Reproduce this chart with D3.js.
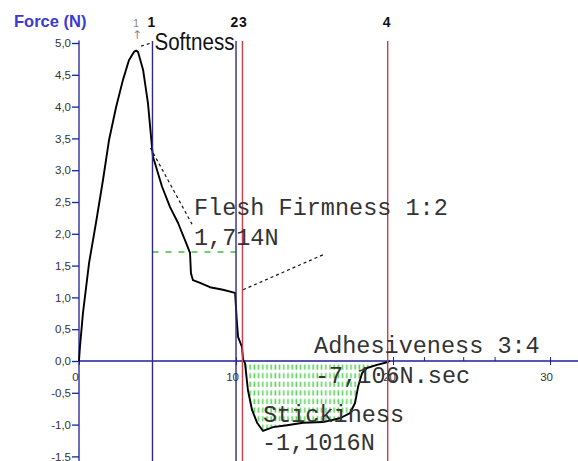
<!DOCTYPE html>
<html>
<head>
<meta charset="utf-8">
<script src="https://cdn.jsdelivr.net/npm/d3@7"></script>
<style>
  body { margin: 0; background: #fff; }
  svg { display: block; }
</style>
</head>
<body>
<div id="chart"></div>
<script>
// Texture analyser curve: force (N) against time (s)

// Curve
const time = [0, 0.06, 0.25, 0.64, 1.08, 1.53, 1.91, 2.36, 2.80, 3.18, 3.50, 3.63, 3.76, 4.08, 4.39, 4.59, 4.71,
  4.84, 5.29, 5.80, 6.31, 6.75, 7.07, 7.13, 7.26, 7.71, 8.34, 9.17, 9.94,
  10.06, 10.13, 10.38, 10.45, 10.57, 10.76, 11.02, 11.34, 11.72, 12.36, 13.25, 14.27, 15.54,
  16.62, 17.26, 17.58, 17.77, 18.03, 18.34, 18.98, 19.62, 19.8]
const force = [0, 0.22, 0.75, 1.54, 2.17, 2.85, 3.47, 3.99, 4.42, 4.73, 4.86, 4.88, 4.86, 4.58, 4.06, 3.52, 3.21,
  3.11, 2.74, 2.42, 2.17, 1.90, 1.70, 1.38, 1.27, 1.23, 1.16, 1.12, 1.07,
  0.60, 0.38, 0.22, 0.02, -0.03, -0.46, -0.77, -0.97, -1.10, -1.04, -1.01, -0.97, -0.96,
  -0.90, -0.82, -0.66, -0.41, -0.19, -0.11, -0.06, -0.02, 0]

// Event markers
const eventTimes = [4.68, 10.0, 10.41, 19.66]
const eventLabels = ['1', '2', '3', '4']
const peakTime = 3.63
const peakForce = 4.88

// Results
const firmness = 1.714
const adhesiveness = -7.106
const stickiness = -1.1016

// Axis ticks
const yTicks = [-1.5, -1.0, -0.5, 0, 0.5, 1.0, 1.5, 2.0, 2.5, 3.0, 3.5, 4.0, 4.5, 5.0]
const xTicks = [0, 10, 20, 30]
const xMinorTicks = [22, 24.5, 26.5]

const width = 578
const height = 461

const comma = d3.formatLocale({ decimal: ',', thousands: '.', grouping: [3], currency: ['', ''], minus: '-' })
const fmt1 = comma.format('.1f')

const svg = d3.select('#chart')
  .append('svg')
  .attr('width', width)
  .attr('height', height)
  .style('background', '#fff')

const x = d3.scaleLinear().domain([0, 31.78]).range([79, 578])
const y = d3.scaleLinear().domain([0, 5]).range([361, 43])

const axisBlue = '#1e1e9c'
const lineBlue = '#2b2b86'
const lineRed = '#cc3d4c'

const points = time.map((t, i) => ({ t: t, f: force[i] }))

// Hatch pattern for the adhesiveness area
const defs = svg.append('defs')
const pat = defs.append('pattern')
  .attr('id', 'hatch')
  .attr('patternUnits', 'userSpaceOnUse')
  .attr('width', 4.2)
  .attr('height', 8.6)
  .attr('x', 244)
  .attr('y', 363)
pat.append('rect')
  .attr('x', 1.2).attr('y', 1.5)
  .attr('width', 1.6).attr('height', 5.2)
  .attr('fill', '#5cd65c')

const areaPts = points.filter(d => d.t >= eventTimes[2] && d.t <= eventTimes[3])
svg.append('path')
  .datum(areaPts)
  .attr('fill', 'url(#hatch)')
  .attr('d', d3.area()
    .x(d => x(d.t))
    .y0(y(0))
    .y1(d => y(Math.min(d.f, 0))))

// Green firmness level between 1 and 2
svg.append('line')
  .attr('x1', x(eventTimes[0])).attr('x2', x(eventTimes[1]))
  .attr('y1', y(firmness)).attr('y2', y(firmness))
  .attr('stroke', '#3fbf3f')
  .attr('stroke-width', 1.3)
  .attr('stroke-dasharray', '6,7')

// Dotted construction lines
const dotted = [
  [[4.55, 3.35], [7.2, 2.15]],
  [[10.45, 1.12], [15.54, 1.67]],
  [[3.95, 4.95], [4.6, 5.0]]
]
svg.selectAll('.dotted')
  .data(dotted)
  .enter().append('line')
  .attr('class', 'dotted')
  .attr('x1', d => x(d[0][0])).attr('y1', d => y(d[0][1]))
  .attr('x2', d => x(d[1][0])).attr('y2', d => y(d[1][1]))
  .attr('stroke', '#111')
  .attr('stroke-width', 1.2)
  .attr('stroke-dasharray', '3,3')

// X axis
const xAxis = svg.append('g')
  .attr('transform', `translate(0,${y(0)})`)
  .call(d3.axisBottom(x).tickValues(xTicks).tickFormat(d3.format('d')))
xAxis.select('.domain').remove()
xAxis.selectAll('line').attr('y1', -4).attr('y2', 4).attr('stroke', axisBlue)
xAxis.selectAll('text')
  .attr('y', 20).attr('dy', 0).attr('dx', -4)
  .attr('fill', '#333')
  .style('font', '11.5px "Liberation Sans", Arial, sans-serif')
svg.append('line')
  .attr('x1', x(0)).attr('x2', width)
  .attr('y1', y(0)).attr('y2', y(0))
  .attr('stroke', axisBlue).attr('stroke-width', 1.3)
svg.selectAll('.minor')
  .data(xMinorTicks)
  .enter().append('line')
  .attr('x1', d => x(d)).attr('x2', d => x(d))
  .attr('y1', y(0) - 4).attr('y2', y(0))
  .attr('stroke', axisBlue)

// Y axis
const yAxis = svg.append('g')
  .attr('transform', `translate(${x(0)},0)`)
  .call(d3.axisLeft(y).tickValues(yTicks).tickSize(7).tickFormat(fmt1))
yAxis.select('.domain').remove()
yAxis.selectAll('line').attr('stroke', axisBlue).attr('stroke-width', 1.3)
yAxis.selectAll('text')
  .attr('x', -8)
  .attr('fill', '#333')
  .style('font', '11.5px "Liberation Sans", Arial, sans-serif')
svg.append('line')
  .attr('x1', x(0)).attr('x2', x(0))
  .attr('y1', y(5.04)).attr('y2', height)
  .attr('stroke', axisBlue).attr('stroke-width', 1.3)

svg.append('text')
  .attr('x', 14).attr('y', 27)
  .attr('fill', '#3b3bd0')
  .style('font', 'bold 16.5px "Liberation Sans", Arial, sans-serif')
  .text('Force (N)')

// Curve
svg.append('path')
  .datum(points)
  .attr('fill', 'none')
  .attr('stroke', '#000')
  .attr('stroke-width', 1.9)
  .attr('stroke-linejoin', 'round')
  .attr('d', d3.line().x(d => x(d.t)).y(d => y(d.f)))

// Event lines and their numbers
svg.selectAll('.event')
  .data(eventTimes)
  .enter().append('line')
  .attr('class', 'event')
  .attr('x1', d => x(d)).attr('x2', d => x(d))
  .attr('y1', y(5.03)).attr('y2', height)
  .attr('stroke', (d, i) => i < 2 ? lineBlue : lineRed)
  .attr('stroke-width', 1.4)

svg.selectAll('.event-label')
  .data(eventTimes)
  .enter().append('text')
  .attr('x', (d, i) => x(d) + (i === 1 ? -1.5 : i === 2 ? 0.5 : -1))
  .attr('y', 27)
  .attr('text-anchor', 'middle')
  .attr('fill', '#111')
  .style('font', 'bold 14px "Liberation Sans", Arial, sans-serif')
  .text((d, i) => eventLabels[i])

// Peak marker
svg.append('text')
  .attr('x', x(peakTime)).attr('y', 27)
  .attr('text-anchor', 'middle')
  .attr('fill', '#8a8a8a')
  .style('font', '11px "Liberation Sans", Arial, sans-serif')
  .text('1')
svg.append('text')
  .attr('x', x(peakTime) + 1).attr('y', y(peakForce) - 12)
  .attr('text-anchor', 'middle')
  .attr('fill', '#8a8a8a')
  .style('font', '12px "DejaVu Sans", sans-serif')
  .text('↑')

svg.append('text')
  .attr('x', x(eventTimes[0]) + 2).attr('y', 50)
  .attr('textLength', 80)
  .attr('lengthAdjust', 'spacingAndGlyphs')
  .attr('fill', '#111')
  .style('font', '23px "Liberation Sans", Arial, sans-serif')
  .text('Softness')

// Result annotations
const mono = '23.5px "Liberation Mono", "Courier New", monospace'
const notes = [
  { text: 'Flesh Firmness 1:2', t: 7.32, f: 2.30 },
  { text: comma.format('.3f')(firmness) + 'N', t: 7.32, f: 1.82 },
  { text: 'Adhesiveness 3:4', t: 14.97, f: 0.13 },
  { text: comma.format('.3f')(adhesiveness) + 'N.sec', t: 15.03, f: -0.35 },
  { text: 'Stickiness', t: 11.72, f: -0.96 },
  { text: comma.format('.4f')(stickiness) + 'N', t: 11.65, f: -1.40 }
]
svg.selectAll('.note')
  .data(notes)
  .enter().append('text')
  .attr('class', 'note')
  .attr('x', d => x(d.t))
  .attr('y', d => y(d.f))
  .attr('fill', '#333')
  .style('font', mono)
  .text(d => d.text)
</script>
</body>
</html>
